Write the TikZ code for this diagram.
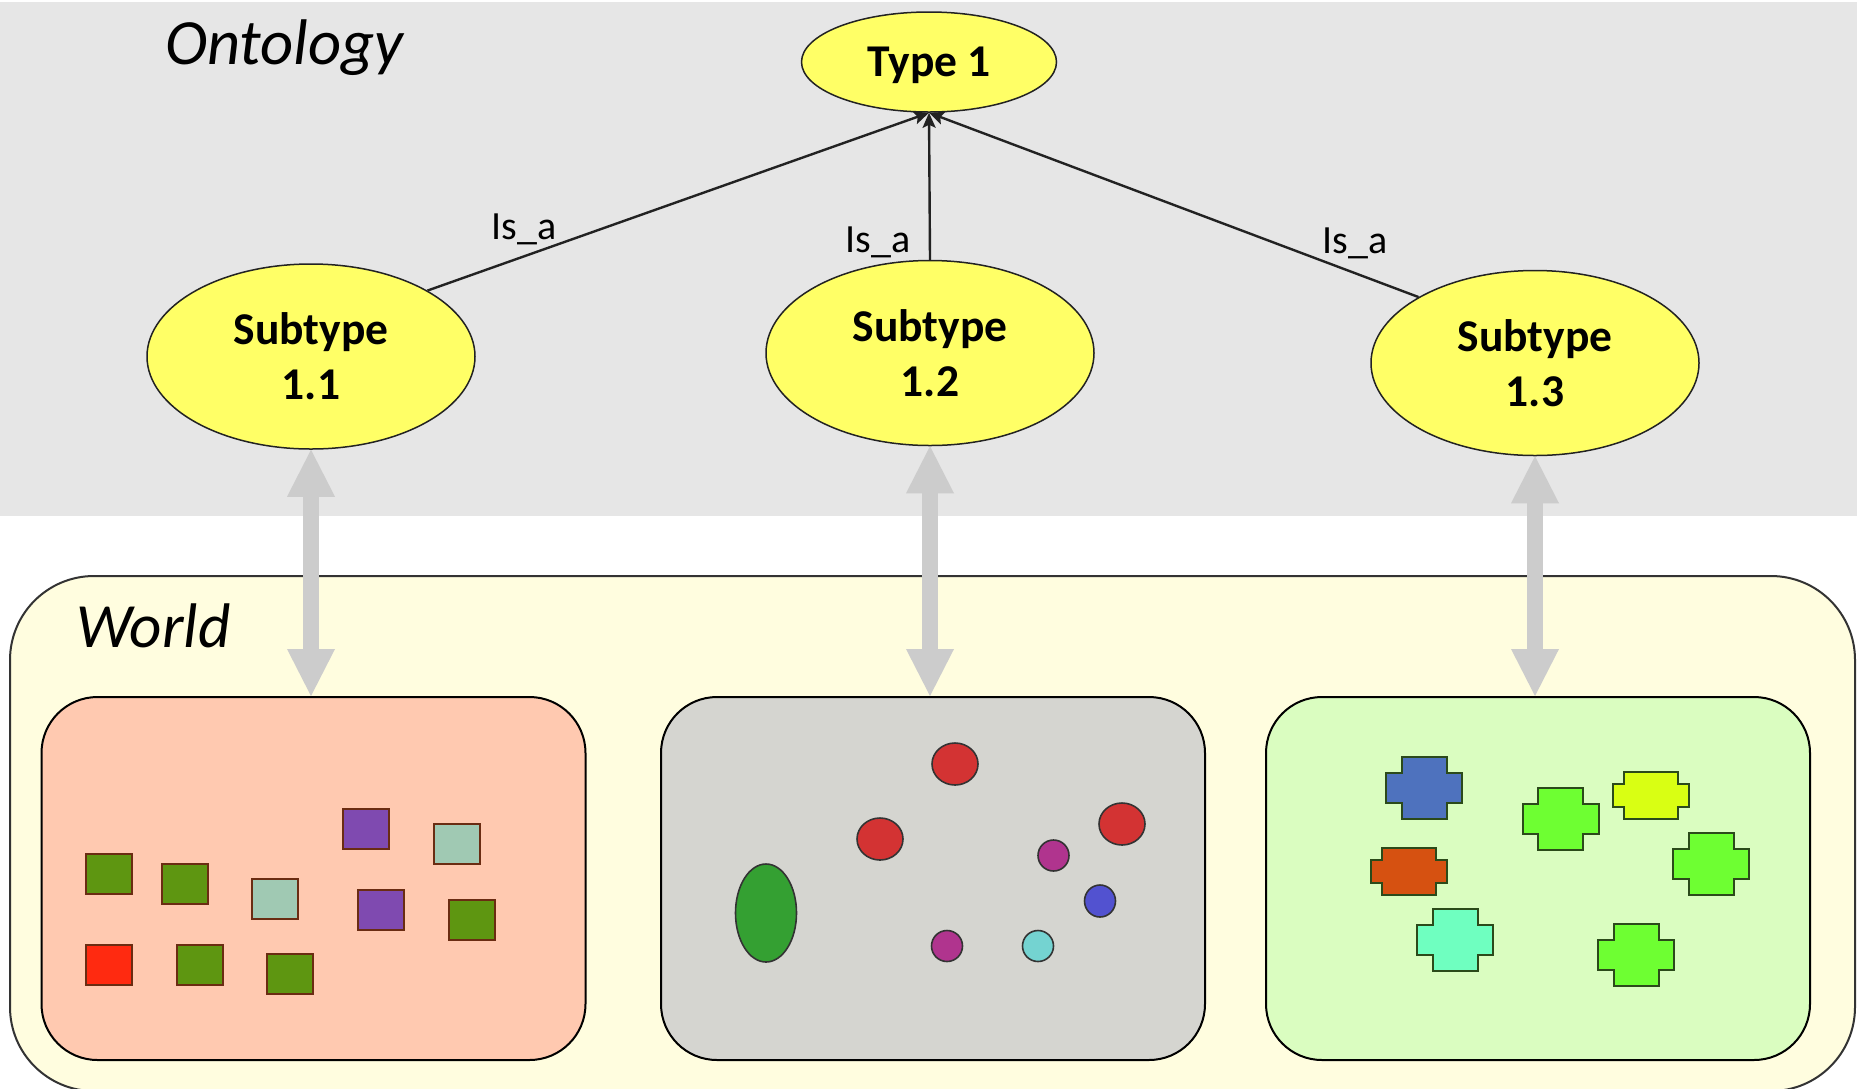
\documentclass[tikz,border=0pt]{standalone}
\usepackage{fontspec}
\setmainfont{Carlito}
\usetikzlibrary{arrows.meta,shapes.geometric}

% palette
\definecolor{bandgray}{HTML}{E6E6E6}
\definecolor{worldfill}{HTML}{FFFDDF}
\definecolor{conceptfill}{HTML}{FFFF66}
\definecolor{edgecol}{HTML}{222222}
\definecolor{linkgray}{HTML}{CCCCCC}
\definecolor{salmonbox}{HTML}{FFC9B0}
\definecolor{greybox}{HTML}{D5D5D0}
\definecolor{greenbox}{HTML}{DAFDC0}
% squares
\definecolor{sqgreen}{HTML}{5E9611}
\definecolor{sqmint}{HTML}{A0C9B3}
\definecolor{sqpurple}{HTML}{7F4AB0}
\definecolor{sqred}{HTML}{FF2A10}
\definecolor{sqedge}{HTML}{6A2C12}
% round blobs
\definecolor{dotred}{HTML}{D33333}
\definecolor{dotmagenta}{HTML}{B0348E}
\definecolor{dotblue}{HTML}{5252D0}
\definecolor{dotcyan}{HTML}{74D3D1}
\definecolor{dotgreen}{HTML}{34A032}
% plus-shaped blocks
\definecolor{plblue}{HTML}{4E72BE}
\definecolor{plgreen}{HTML}{6EFF32}
\definecolor{plyellow}{HTML}{D9FF13}
\definecolor{plorange}{HTML}{D65111}
\definecolor{plaqua}{HTML}{6FFFC0}
\definecolor{pledge}{HTML}{2B4A1A}

\tikzset{
  concept/.style={ellipse, draw=edgecol, line width=1.5pt, fill=conceptfill,
    inner sep=0pt, align=center, font=\fontsize{45.5}{55}\selectfont\bfseries},
  isa/.style={draw=edgecol, line width=2.4pt,
    -{Stealth[length=15pt,width=13pt,inset=3pt]}},
  isalabel/.style={font=\fontsize{40}{48}\selectfont, anchor=base, inner sep=0pt},
  title/.style={font=\fontsize{63}{70}\selectfont\itshape, anchor=base west, inner sep=0pt},
  link/.style={draw=linkgray, line width=16pt,
    {Triangle[length=47pt,width=48pt,line width=0pt]}-{Triangle[length=47pt,width=48pt,line width=0pt]}},
  group/.style={rectangle, rounded corners=56pt, draw=black, line width=2pt,
    minimum width=544pt, minimum height=363pt, inner sep=0pt},
  sq/.style={draw=sqedge, line width=1.8pt},
  dot/.style={draw=black!80, line width=1.6pt},
  plusedge/.style={draw=pledge, line width=2pt},
  pics/tallplus/.style={code={
    \path[plusedge, fill=#1] (-22.5,-31) -- (22.5,-31) -- (22.5,-15) -- (38,-15)
      -- (38,15) -- (22.5,15) -- (22.5,31) -- (-22.5,31) -- (-22.5,15)
      -- (-38,15) -- (-38,-15) -- (-22.5,-15) -- cycle;}},
  pics/flatplus/.style={code={
    \path[plusedge, fill=#1] (-27,-23.5) -- (27,-23.5) -- (27,-11.5) -- (38,-11.5)
      -- (38,11.5) -- (27,11.5) -- (27,23.5) -- (-27,23.5) -- (-27,11.5)
      -- (-38,11.5) -- (-38,-11.5) -- (-27,-11.5) -- cycle;}},
}

% a 46 x 40 square with its top-left corner at (#1,#2)
\newcommand{\tile}[3]{\path[sq, fill=#3] (#1,#2) rectangle ++(46,40);}
% an elliptic blob: centre (#1,#2), radii #3 and #4 (pt), colour #5
\newcommand{\blob}[5]{\path[dot, fill=#5] (#1,#2) ellipse [x radius=#3pt, y radius=#4pt];}

\begin{document}
\begin{tikzpicture}[x=1pt, y=-1pt]
  \useasboundingbox (0,0) rectangle (1857,1088);
  \fill[white] (0,0) rectangle (1857,1088);

  % ontology band
  \fill[bandgray] (0,2) rectangle (1857,516);
  \node[title, font=\fontsize{64.5}{70}\selectfont\itshape] (ontotitle) at (165,64) {Ontology};

  % concept hierarchy
  \node[concept, minimum width=255pt, minimum height=100pt, text depth=0pt] (t1) at (929,62) {Type 1};
  \node[concept, minimum width=328pt, minimum height=185pt] (s1) at (311,356.5) {Subtype\\1.1};
  \node[concept, minimum width=328pt, minimum height=185pt] (s2) at (930,353) {Subtype\\1.2};
  \node[concept, minimum width=328pt, minimum height=185pt] (s3) at (1535,363) {Subtype\\1.3};

  \draw[isa] (s1.north east) -- (t1.south);
  \draw[isa] (s2.north) -- (t1.south);
  \draw[isa] (s3.north west) -- (t1.south);

  \node[isalabel] (l1) at (524,239) {Is\_a};
  \node[isalabel] (l2) at (878,252) {Is\_a};
  \node[isalabel] (l3) at (1355,253) {Is\_a};

  % world panel
  \draw[draw=black!80, line width=2pt, fill=worldfill, rounded corners=84pt]
    (10,576) rectangle (1855,1091);
  \node[title] (worldtitle) at (76,647) {World};

  \node[group, fill=salmonbox] (b1) at (313.5,878.5) {};
  \node[group, fill=greybox]   (b2) at (933,878.5) {};
  \node[group, fill=greenbox]  (b3) at (1538,878.5) {};

  % instance-of links between concepts and groups
  \draw[link] (s1.south) -- (s1.south |- b1.north);
  \draw[link] (s2.south) -- (s2.south |- b2.north);
  \draw[link] (s3.south) -- (s3.south |- b3.north);

  % square things
  \tile{86}{854}{sqgreen}
  \tile{162}{864}{sqgreen}
  \tile{252}{879}{sqmint}
  \tile{343}{809}{sqpurple}
  \tile{434}{824}{sqmint}
  \tile{358}{890}{sqpurple}
  \tile{449}{900}{sqgreen}
  \tile{86}{945}{sqred}
  \tile{177}{945}{sqgreen}
  \tile{267}{954}{sqgreen}

  % round things
  \blob{955}{764}{23}{21}{dotred}
  \blob{880}{839}{23}{21}{dotred}
  \blob{1122}{824}{23}{21}{dotred}
  \blob{1053.5}{855.5}{15.5}{15.5}{dotmagenta}
  \blob{1100}{901}{15.5}{16}{dotblue}
  \blob{947}{946}{15.5}{15.5}{dotmagenta}
  \blob{1038}{946}{15.5}{15.5}{dotcyan}
  \blob{766}{913}{30.5}{49}{dotgreen}

  % plus-shaped things
  \pic at (1424,788) {tallplus=plblue};
  \pic at (1560.5,818.5) {tallplus=plgreen};
  \pic at (1651,795.5) {flatplus=plyellow};
  \pic at (1409,871) {flatplus=plorange};
  \pic at (1711,863.5) {tallplus=plgreen};
  \pic at (1455,939.5) {tallplus=plaqua};
  \pic at (1636,954.5) {tallplus=plgreen};
\end{tikzpicture}
\end{document}
